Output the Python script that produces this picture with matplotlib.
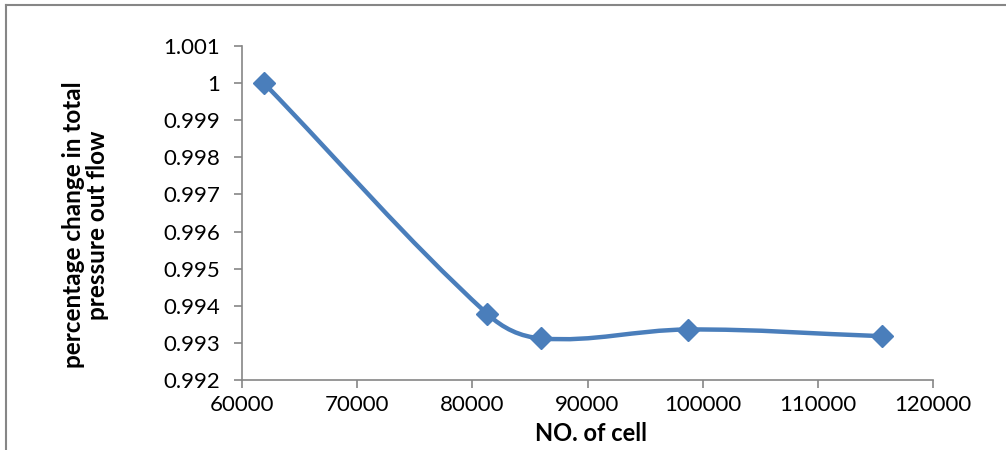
import numpy as np
import matplotlib

matplotlib.use("Agg")
import matplotlib.pyplot as plt
from matplotlib.path import Path
from matplotlib.patches import PathPatch
from matplotlib.lines import Line2D

# mesh size vs. normalised total pressure at the outflow
cells = [61900, 81300, 86000, 98700, 115600]
pressure = [1.0, 0.99378, 0.99312, 0.99336, 0.99318]

x_ticks = [60000, 70000, 80000, 90000, 100000, 110000, 120000]
y_ticks = [0.992, 0.993, 0.994, 0.995, 0.996, 0.997, 0.998, 0.999, 1.0, 1.001]
y_labels = ["0.992", "0.993", "0.994", "0.995", "0.996", "0.997",
            "0.998", "0.999", "1", "1.001"]

BLUE = "#4a7ebb"
GREY = "#868686"


def smooth_path(xs, ys, k=0.36):
    """Smoothed line through the points; handle length follows segment length."""
    pts = np.column_stack([xs, ys]).astype(float)
    n = len(pts)
    tang = np.zeros_like(pts)
    for i in range(n):
        a = pts[max(i - 1, 0)]
        b = pts[min(i + 1, n - 1)]
        d = b - a
        tang[i] = d / np.hypot(*d)
    verts = [tuple(pts[0])]
    codes = [Path.MOVETO]
    for i in range(n - 1):
        p1, p2 = pts[i], pts[i + 1]
        seg = np.hypot(*(p2 - p1))
        c1 = p1 + tang[i] * seg * k
        c2 = p2 - tang[i + 1] * seg * k
        verts += [tuple(c1), tuple(c2), tuple(p2)]
        codes += [Path.CURVE4] * 3
    return Path(verts, codes)


plt.rcParams["font.family"] = ["Lato", "DejaVu Sans"]

fig = plt.figure(figsize=(10.06, 4.5), dpi=100)
ax = fig.add_axes([0.2406, 0.1556, 0.6868, 0.7422])

# the curve is built in display space so the smoothing looks the same as on screen
ax.set_xlim(60000, 120000)
ax.set_ylim(0.992, 1.001)
disp = ax.transData.transform(np.column_stack([cells, pressure]))
curve = PathPatch(smooth_path(disp[:, 0], disp[:, 1]), transform=None,
                  facecolor="none", edgecolor=BLUE, lw=3.2, capstyle="round",
                  joinstyle="round", zorder=3)
ax.add_artist(curve)
ax.plot(cells, pressure, ls="none", marker="D", ms=11, color=BLUE, zorder=4,
        clip_on=False)

ax.set_xticks(x_ticks)
ax.set_xticklabels([str(v) for v in x_ticks])
ax.set_yticks(y_ticks)
ax.set_yticklabels(y_labels)
ax.tick_params(axis="both", which="major", labelsize=16, color=GREY,
               length=6, width=1.2, direction="out")
ax.tick_params(axis="x", pad=5)
ax.tick_params(axis="y", pad=10)
for side in ("top", "right"):
    ax.spines[side].set_visible(False)
for side in ("left", "bottom"):
    ax.spines[side].set_color(GREY)
    ax.spines[side].set_linewidth(1.2)

fig.text(0.587, 0.036, "NO. of cell", ha="center", va="center",
         fontsize=17, fontweight="bold")
fig.text(0.085, 0.5, "percentage change in total\npressure out flow",
         ha="center", va="center", rotation=90, fontsize=17.5,
         fontweight="bold", linespacing=1.05)

# chart-area frame (top and left edges only fall inside the canvas)
fig.add_artist(Line2D([0.006, 1.0], [0.99, 0.99], color=GREY, lw=1.5))
fig.add_artist(Line2D([0.006, 0.006], [0.0, 0.99], color=GREY, lw=1.5))

fig.savefig("out.png", dpi=100)
